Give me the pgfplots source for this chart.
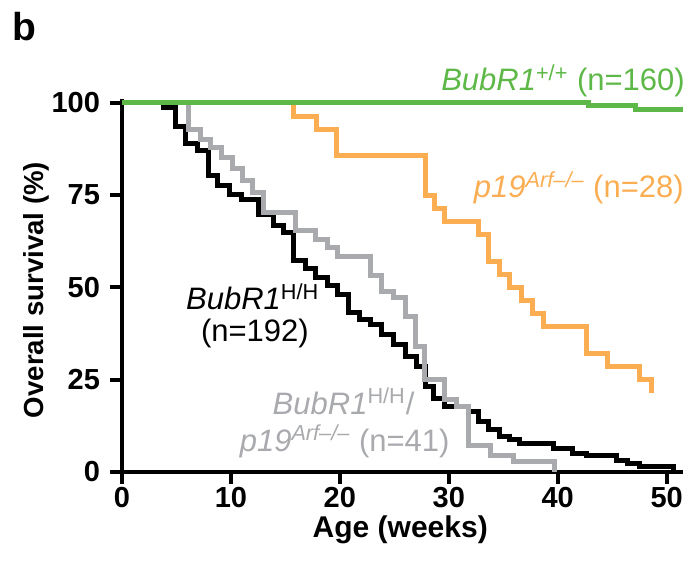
\documentclass[border=0pt]{standalone}
\usepackage{fontspec}
\setmainfont{Liberation Sans}
\usepackage{pgfplots}
\pgfplotsset{compat=1.18}
\definecolor{kmgreen}{RGB}{94,184,72}
\definecolor{kmorange}{RGB}{251,173,82}
\definecolor{kmgray}{RGB}{169,170,173}
\newcommand{\annfont}{\fontsize{15.5}{18}\selectfont}
\begin{document}
\begin{tikzpicture}
\useasboundingbox (-61pt,-44.5pt) rectangle (285.5pt,236pt);
\begin{axis}[
  scale only axis, width=280.5pt, height=186.4pt,
  xmin=0, xmax=51.5, ymin=0, ymax=101,
  axis x line*=bottom, axis y line*=left,
  axis line style={line width=2pt},
  xtick={0,10,20,30,40,50}, ytick={0,25,50,75,100},
  tick align=outside, major tick length=6pt,
  major tick style={line width=2pt,black},
  tick label style={font=\bfseries\fontsize{14.5}{14.5}\selectfont},
  xticklabel style={inner sep=0pt, yshift=-1.5pt},
  yticklabel style={xshift=-1.5pt},
  /pgf/number format/assume math mode=true,
  xlabel={Age (weeks)}, ylabel={Overall survival (\%)},
  xlabel style={font=\bfseries\fontsize{15}{15}\selectfont, inner sep=0pt, at={(axis description cs:0.496,-0.155)},anchor=center},
  ylabel style={font=\bfseries\fontsize{13.8}{14}\selectfont, at={(axis description cs:-0.152,0.488)},anchor=center},
  clip=false,
  every axis plot/.append style={const plot, line width=2.5pt, no markers},
]
% BubR1 H/H (black)
\addplot[black] coordinates {
(0,100)(3.8,98.8)(4.9,93.5)(5.8,89)(6.9,87)(7.9,80.3)(8.8,77.5)(9.9,75.3)
(11.0,73.9)(12.5,69.8)(13.9,66.7)(14.8,65)(15.7,57.4)(16.8,55.2)(17.8,52.6)
(18.9,50.4)(19.8,48.1)(20.8,43.1)(21.8,41.3)(22.8,39.9)(23.8,37.2)(24.9,34.5)
(26.0,31.3)(27.0,28.6)(27.9,23.2)(28.6,20)(29.6,17.7)(31.8,16.4)(32.7,13.7)
(33.6,11.4)(34.7,9.6)(35.6,8.7)(36.5,7.8)(39.6,6.4)(41.4,5.0)(42.6,4.4)
(45.4,3.2)(46.4,2.4)(47.5,1.6)(50.6,0.4)
};
% BubR1 H/H; p19Arf-/- (gray)
\addplot[kmgray] coordinates {
(0,100)(6.1,92.9)(7.2,90.2)(8.1,88)(9.1,85.2)(10.1,82.1)(11.1,78.9)(12.0,75.7)
(13.0,70.3)(15.9,65.5)(17.8,63)(18.9,60.8)(19.8,58.5)(22.8,53.1)(23.8,49)
(24.9,47.2)(26.0,42.2)(26.9,34.1)(27.8,25)(29.6,19.6)(30.7,17.7)(31.8,7.3)
(33.8,4.6)(35.9,2.8)(39.7,0)
};
% p19Arf-/- (orange)
\addplot[kmorange] coordinates {
(0,100)(15.7,96.4)(17.9,92.9)(19.7,85.7)(27.9,75)(28.7,71.4)(29.6,67.9)
(32.7,64.3)(33.6,57.1)(34.7,53.6)(35.6,50)(36.7,46.4)(37.7,42.9)(38.7,39.3)
(42.6,32.1)(44.6,28.6)(47.5,25)(48.6,21.4)
};
% BubR1 +/+ (green)
\addplot[kmgreen] coordinates {
(0,100)(42.8,99.4)(47.1,98.3)(51.5,98.3)
};
\node[anchor=base east, text=kmgreen, font=\annfont, inner sep=0pt] at (axis cs:51.7,103.3)
  {\textit{BubR1}\textsuperscript{+/+} (n=160)};
\node[anchor=base east, text=kmorange, font=\annfont, inner sep=0pt] at (axis cs:51.6,74.3)
  {\textit{p19}\textsuperscript{\itshape Arf–/–} (n=28)};
\node[anchor=base, text=black, font=\annfont, inner sep=0pt] at (axis cs:12.0,43.9)
  {\textit{BubR1}\textsuperscript{H/H}};
\node[anchor=base, text=black, font=\annfont, inner sep=0pt] at (axis cs:12.2,35.4)
  {(n=192)};
\node[anchor=base west, text=kmgray, font=\annfont, inner sep=0pt] at (axis cs:13.8,15.6)
  {\textit{BubR1}\textsuperscript{H/H}/};
\node[anchor=base east, text=kmgray, font=\annfont, inner sep=0pt] at (axis cs:30.1,5.6)
  {\textit{p19}\textsuperscript{\itshape Arf–/–} (n=41)};
\node[anchor=base west, font=\bfseries\fontsize{19.5}{20}\selectfont, inner sep=0pt] at (axis cs:-10.1,117)
  {b};
\end{axis}
\end{tikzpicture}
\end{document}
